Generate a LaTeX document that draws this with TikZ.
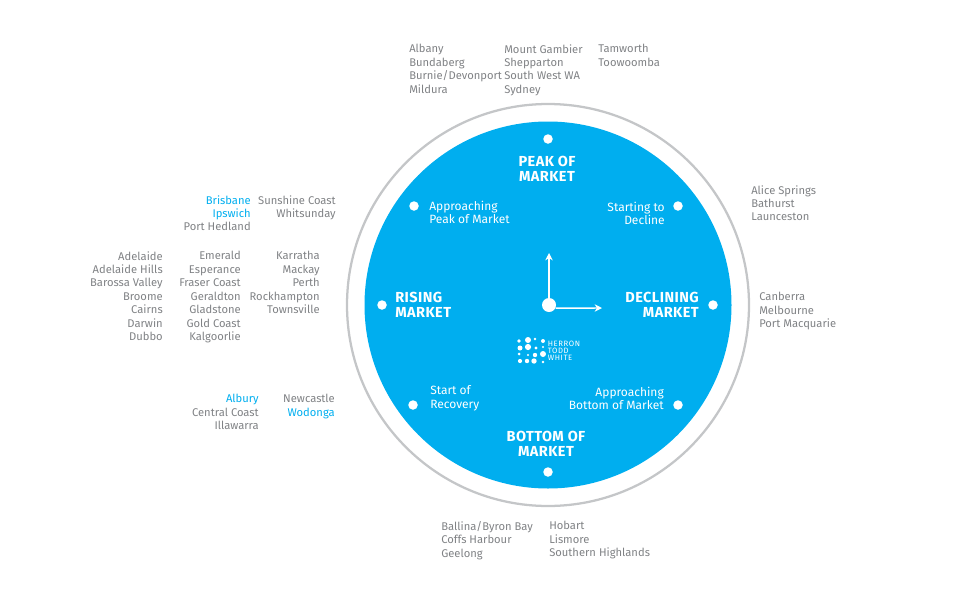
\documentclass[tikz,border=0pt]{standalone}
\usepackage{fontspec}
\setmainfont{Fira Sans}
\usepackage{xcolor}
\usetikzlibrary{arrows.meta,positioning}
\definecolor{dialblue}{HTML}{00AEEF}
\definecolor{citygray}{HTML}{808285}
\definecolor{ringgray}{HTML}{C4C6C8}
\begin{document}
\begin{tikzpicture}[x=0.75pt, y=-0.75pt,
  city/.style={text=citygray, font=\fontsize{8.4}{10.1}\selectfont, inner sep=0pt},
  cityl/.style={city, anchor=north west, align=left},
  cityr/.style={city, anchor=north east, align=right},
  phase/.style={text=white, font=\fontsize{9}{10.1}\selectfont, inner sep=0pt},
  market/.style={text=white, font=\addfontfeature{LetterSpace=3}\fontsize{10.9}{10.9}\selectfont\bfseries, inner sep=0pt},
  tick/.style={circle, fill=white, inner sep=0pt, minimum size=9.5pt*0.75},
  hand/.style={draw=white, line width=1.1pt, -{Stealth[length=5.5pt, width=5.5pt]}}]
\useasboundingbox (0,0) rectangle (960,600);
% dial
\node[circle, draw=ringgray, line width=1.7pt, minimum size=402*0.75pt, inner sep=0pt] (ring) at (548,305) {};
\node[circle, fill=dialblue, minimum size=367*0.75pt, inner sep=0pt] (dial) at (548,305) {};
% ticks
\node[tick] (tpeak) at (548,139) {};
\node[tick] (tstart) at (678,206) {};
\node[tick] (tdecl) at (713,305) {};
\node[tick] (tappb) at (678,405) {};
\node[tick] (tbott) at (548,472) {};
\node[tick] (trec) at (413,405) {};
\node[tick] (trise) at (382,305) {};
\node[tick] (tappp) at (414,206) {};
% hands
\node[circle, fill=white, inner sep=0pt, minimum size=14*0.75pt] (hub) at (549,305) {};
\coordinate (upend) at (549,253);
\coordinate (rightend) at (602,308);
\draw[hand] (hub) -- (upend);
\draw[hand] (hub.-25) -- (rightend);
% phases
\node[market, align=center, anchor=center] (peak) at (547,169) {PEAK OF\\MARKET};
\node[market, align=center, anchor=center] (bottom) at (546,444) {BOTTOM OF\\MARKET};
\node[market, align=left, anchor=west] (rising) at (395,305) {RISING\\MARKET};
\node[market, align=right, anchor=east] (declining) at (699,305) {DECLINING\\MARKET};
\node[phase, align=left, anchor=west] (apppeak) at (429,212.5) {Approaching\\Peak of Market};
\node[phase, align=right, anchor=east] (startdec) at (665,213.5) {Starting to\\Decline};
\node[phase, align=right, anchor=east] (appbot) at (664,398.5) {Approaching\\Bottom of Market};
\node[phase, align=left, anchor=west] (startrec) at (430,398.5) {Start of\\Recovery};
% logo
\foreach \px/\py/\pr in {519/341/1.8, 528/340/3.0, 535/339/1.3, 543/341/2.0,
  520/348/2.5, 528/347/3.1, 536/348/1.6, 519/354/1.5, 528/355/1.2, 535/355/2.2, 543/354/3.0,
  520/361/2.1, 527/361/2.2, 534/361/2.7, 543/362/1.3, 543/347/1.2}
  \fill[white] (\px,\py) circle[radius=\pr*0.75pt];
\node[text=white, font=\addfontfeature{LetterSpace=8}\fontsize{5.8}{5.2}\selectfont, align=left, anchor=west, inner sep=0pt] (logo) at (547.5,351) {HERRON\\TODD\\WHITE};
% top cities
\node[cityl] (top1) at (409,44) {Albany\\Bundaberg\\Burnie/Devonport\\Mildura};
\node[cityl] (top2) at (504,44) {Mount Gambier\\Shepparton\\South West WA\\Sydney};
\node[cityl] (top3) at (598,44) {Tamworth\\Toowoomba};
% right cities
\node[cityl] (right1) at (751,185) {Alice Springs\\Bathurst\\Launceston};
\node[cityl] (right2) at (759,292) {Canberra\\Melbourne\\Port Macquarie};
% bottom cities
\node[cityl] (bot1) at (441,521) {Ballina/Byron Bay\\Coffs Harbour\\Geelong};
\node[cityl] (bot2) at (549,521) {Hobart\\Lismore\\Southern Highlands};
% left cities
\node[cityr] (ris1) at (251,195) {\textcolor{dialblue}{Brisbane}\\\textcolor{dialblue}{Ipswich}\\Port Hedland};
\node[cityr] (ris2) at (336,195) {Sunshine Coast\\Whitsunday};
\node[cityr] (ris3) at (163,251) {Adelaide\\Adelaide Hills\\Barossa Valley\\Broome\\Cairns\\Darwin\\Dubbo};
\node[cityr] (ris4) at (241,251) {Emerald\\Esperance\\Fraser Coast\\Geraldton\\Gladstone\\Gold Coast\\Kalgoorlie};
\node[cityr] (ris5) at (320,251) {Karratha\\Mackay\\Perth\\Rockhampton\\Townsville};
\node[cityr] (rec1) at (259,394) {\textcolor{dialblue}{Albury}\\Central Coast\\Illawarra};
\node[cityr] (rec2) at (335,394) {Newcastle\\\textcolor{dialblue}{Wodonga}};
\end{tikzpicture}
\end{document}
